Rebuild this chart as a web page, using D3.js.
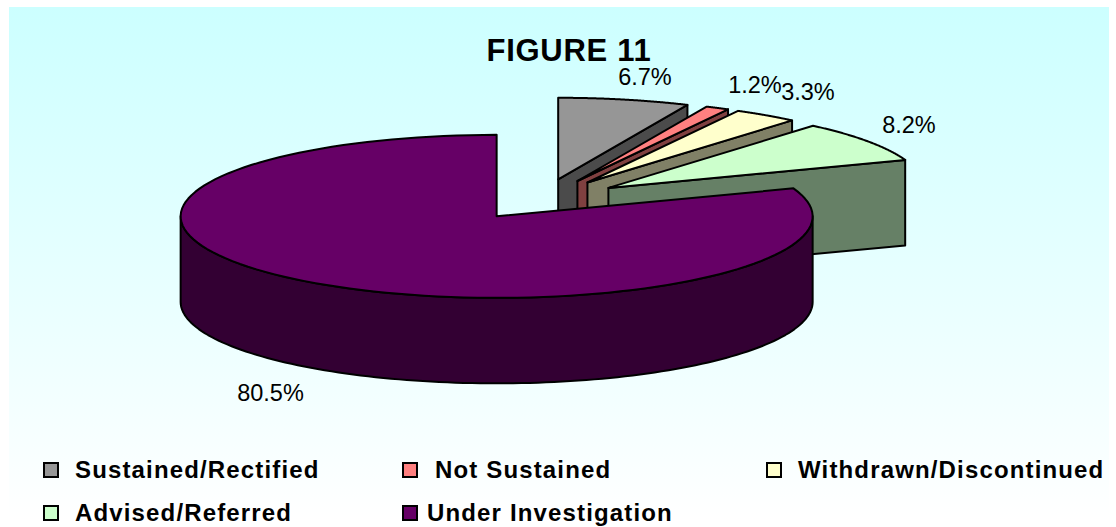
<!DOCTYPE html>
<html>
<head>
<meta charset="utf-8">
<script src="https://cdn.jsdelivr.net/npm/d3@7"></script>
<style>
html,body{margin:0;padding:0;background:#fff;}
svg{display:block;}
text{font-family:"Liberation Sans",Arial,sans-serif;fill:#000;}
</style>
</head>
<body>
<svg id="chart" width="1116" height="527"></svg>
<script>
const categories = ["Sustained/Rectified","Not Sustained","Withdrawn/Discontinued","Advised/Referred","Under Investigation"];
const percentValues = [6.7,1.2,3.3,8.2,80.5];
const valueLabels = ["6.7%","1.2%","3.3%","8.2%","80.5%"];
const topColors = ["#969696","#ff8080","#ffffcc","#ccffcc","#660066"];
const sideColors = ["#4b4b4b","#804040","#808066","#668066","#330033"];
const explodeAmounts = [0.26,0.26,0.26,0.26,0.245];

const svg = d3.select("#chart");

// Backdrop: pale cyan fading to white
const grad = svg.append("defs").append("linearGradient")
  .attr("id","backdrop").attr("x1",0).attr("y1",0).attr("x2",0).attr("y2",1);
grad.append("stop").attr("offset","0%").attr("stop-color","#ccffff");
grad.append("stop").attr("offset","100%").attr("stop-color","#ffffff");
svg.append("rect").attr("x",9).attr("y",7).attr("width",1100).attr("height",513)
  .attr("fill","url(#backdrop)");

svg.append("text").attr("x",569).attr("y",61).attr("text-anchor","middle")
  .attr("font-size",31).attr("font-weight","bold").attr("letter-spacing",0.7).text("FIGURE 11");

// Pie geometry: a tilted disc with every wedge pulled out from the centre
const cx = 541, cy = 200, rx = 316, ry = 81.5, depth = 85.5;
const pie = d3.pie().sort(null).value(d => d);
const arcs = pie(percentValues);
const px = (c,t) => c.x + rx*Math.sin(t);
const py = (c,t) => c.y - ry*Math.cos(t);
const line = d3.line();

const wedges = arcs.map((a,i) => {
  const mid = (a.startAngle+a.endAngle)/2;
  const e = explodeAmounts[i];
  return {a, i, c:{x:cx+e*rx*Math.sin(mid), y:cy-e*ry*Math.cos(mid)}};
});

function rimPoints(c,t0,t1,dy=0){
  return d3.range(0,121).map(k => {
    const t = t0+(t1-t0)*k/120;
    return [px(c,t), py(c,t)+dy];
  });
}

function draw(pts,fill){
  svg.append("path").attr("d",line(pts)+"Z").attr("fill",fill)
    .attr("stroke","#000").attr("stroke-width",2).attr("stroke-linejoin","round");
}

wedges.forEach(({a,i,c}) => {
  const t0=a.startAngle, t1=a.endAngle;
  // Radial cut face on the clockwise side of the wedge
  if (t1 < Math.PI) {
    const o=[px(c,t1),py(c,t1)];
    draw([[c.x,c.y],o,[o[0],o[1]+depth],[c.x,c.y+depth]],sideColors[i]);
  }
  // Curved outer wall on the near half of the disc
  const w0=Math.max(t0,Math.PI/2), w1=Math.min(t1,3*Math.PI/2);
  if (w1>w0) {
    draw(rimPoints(c,w0,w1).concat(rimPoints(c,w1,w0,depth)),sideColors[i]);
  }
  // Top face
  draw([[c.x,c.y]].concat(rimPoints(c,t0,t1)),topColors[i]);
});

// Value labels placed beside their wedges
const labelX = [645,755,808,909,270.5];
const labelY = [85,93,100,133,401];
svg.selectAll("text.value").data(valueLabels).join("text").attr("class","value")
  .attr("x",(d,i)=>labelX[i]).attr("y",(d,i)=>labelY[i])
  .attr("text-anchor","middle").attr("font-size",23.5).text(d=>d);

// Legend in two rows
const legendBoxX = [44,403,767,44,403];
const legendTextX = [75,435,798,75,427];
const legendY = [470,470,470,513,513];
categories.forEach((name,i) => {
  svg.append("rect").attr("x",legendBoxX[i]).attr("y",legendY[i]-7).attr("width",14).attr("height",14)
    .attr("fill",topColors[i]).attr("stroke","#000").attr("stroke-width",2);
  svg.append("text").attr("x",legendTextX[i]).attr("y",legendY[i]+8).attr("font-size",24)
    .attr("letter-spacing",1.15).attr("font-weight","bold").text(name);
});
</script>
</body>
</html>
